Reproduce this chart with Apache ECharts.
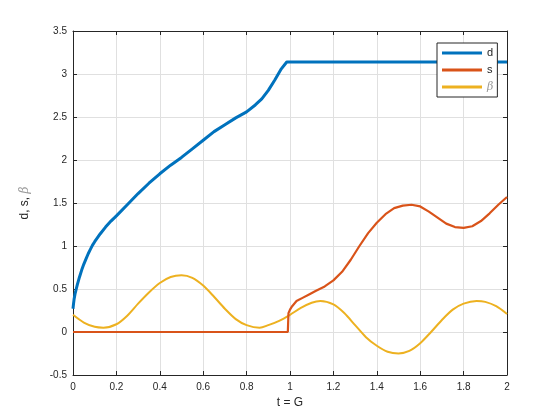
<!DOCTYPE html>
<html>
<head>
<meta charset="utf-8">
<script src="https://cdn.jsdelivr.net/npm/echarts@6/dist/echarts.min.js"></script>
<style>html,body{margin:0;padding:0;background:#fff}#c{width:560px;height:420px}</style>
</head>
<body>
<div id="c"></div>
<script>
// ---- data ----
const seriesNames = ['d', 's', 'β'];
const tD = [0, 0.0025, 0.005, 0.01, 0.015, 0.02, 0.03, 0.04, 0.05, 0.06, 0.07, 0.08, 0.09, 0.1, 0.125, 0.15, 0.175, 0.2, 0.25, 0.3, 0.35, 0.4, 0.45, 0.5, 0.55, 0.6, 0.65, 0.7, 0.75, 0.8, 0.84, 0.87, 0.9, 0.93, 0.96, 0.985, 1.0, 2.0];
const dVals = [0.27, 0.33, 0.38, 0.45, 0.50, 0.55, 0.64, 0.72, 0.79, 0.85, 0.91, 0.96, 1.01, 1.05, 1.14, 1.22, 1.29, 1.35, 1.48, 1.61, 1.73, 1.84, 1.94, 2.03, 2.13, 2.23, 2.33, 2.41, 2.49, 2.56, 2.64, 2.71, 2.81, 2.93, 3.06, 3.14, 3.14, 3.14];
const tS = [0, 0.99, 0.993, 1.0, 1.01, 1.03, 1.06, 1.09, 1.12, 1.16, 1.2, 1.24, 1.28, 1.32, 1.36, 1.4, 1.44, 1.48, 1.52, 1.56, 1.6, 1.64, 1.68, 1.72, 1.76, 1.8, 1.84, 1.88, 1.92, 1.96, 2.0];
const sVals = [0, 0, 0.22, 0.26, 0.30, 0.36, 0.40, 0.44, 0.48, 0.53, 0.60, 0.70, 0.84, 1.00, 1.15, 1.27, 1.37, 1.44, 1.47, 1.48, 1.46, 1.40, 1.33, 1.26, 1.22, 1.21, 1.23, 1.29, 1.38, 1.48, 1.57];
const tB = [0, 0.05, 0.1, 0.14, 0.2, 0.25, 0.3, 0.35, 0.4, 0.45, 0.5, 0.55, 0.6, 0.65, 0.7, 0.75, 0.8, 0.86, 0.9, 0.95, 1.0, 1.05, 1.1, 1.14, 1.2, 1.25, 1.3, 1.35, 1.4, 1.45, 1.5, 1.55, 1.6, 1.65, 1.7, 1.75, 1.8, 1.86, 1.9, 1.95, 2.0];
const bVals = [0.20, 0.11, 0.06, 0.05, 0.09, 0.19, 0.33, 0.46, 0.57, 0.64, 0.66, 0.63, 0.54, 0.41, 0.27, 0.15, 0.08, 0.05, 0.08, 0.13, 0.20, 0.28, 0.34, 0.36, 0.32, 0.22, 0.08, -0.06, -0.16, -0.23, -0.25, -0.22, -0.13, 0.00, 0.14, 0.26, 0.33, 0.36, 0.35, 0.30, 0.21];
const xTickMin = 0, xTickMax = 2, xTickStep = 0.2;
const yTickMin = -0.5, yTickMax = 3.5, yTickStep = 0.5;
const xLabel = 't = G';
const yLabelParts = ['d, s, ', 'β'];
// ---- chart ----
const font = 'Arial, "Liberation Sans", Helvetica, sans-serif';
const ink = '#262626';
const pair = (ts, vs) => ts.map((t, i) => [t, vs[i]]);
const chart = echarts.init(document.getElementById('c'), null, {renderer: 'canvas'});
const baseAxis = {
  axisLine: {show: true, onZero: false, lineStyle: {color: ink, width: 1}},
  axisTick: {show: true, inside: true, length: 4, lineStyle: {color: ink}},
};
chart.setOption({
  animation: false,
  backgroundColor: '#fff',
  grid: {left: 73, right: 53, top: 31, bottom: 45, containLabel: false},
  legend: {
    orient: 'vertical', left: 437, top: 43,
    padding: [3, 4, 3, 5], itemGap: 3, itemWidth: 40, itemHeight: 3,
    icon: 'rect',
    backgroundColor: '#fff', borderColor: ink, borderWidth: 1, borderRadius: 0,
    data: seriesNames,
    formatter: n => n === 'β' ? '{b|β}' : n,
    textStyle: {fontFamily: font, fontSize: 11, color: ink, lineHeight: 14,
      rich: {b: {fontStyle: 'italic', fontFamily: '"DejaVu Serif", serif', color: '#999', fontSize: 11, lineHeight: 14}}}
  },
  xAxis: [
    Object.assign({}, baseAxis, {
      type: 'value', position: 'bottom', min: xTickMin, max: xTickMax, interval: xTickStep,
      name: xLabel, nameLocation: 'middle', nameGap: 22,
      nameTextStyle: {fontFamily: font, fontSize: 12, color: ink},
      axisLabel: {fontFamily: font, fontSize: 10, color: ink, margin: 7},
      splitLine: {show: true, lineStyle: {color: '#e0e0e0', width: 1}}
    }),
    Object.assign({}, baseAxis, {
      type: 'value', position: 'top', min: xTickMin, max: xTickMax, interval: xTickStep,
      axisLabel: {show: false}, splitLine: {show: false}
    })
  ],
  yAxis: [
    Object.assign({}, baseAxis, {
      type: 'value', position: 'left', min: yTickMin, max: yTickMax, interval: yTickStep,
      name: '{n|' + yLabelParts[0] + '}{b|' + yLabelParts[1] + '}', nameLocation: 'middle', nameGap: 42,
      nameTextStyle: {fontFamily: font, fontSize: 12, color: ink,
        rich: {n: {fontFamily: font, fontSize: 12, color: ink},
               b: {fontFamily: '"DejaVu Serif", serif', fontStyle: 'italic', fontSize: 12, color: '#999'}}},
      axisLabel: {fontFamily: font, fontSize: 10, color: ink, margin: 6},
      splitLine: {show: true, lineStyle: {color: '#e0e0e0', width: 1}}
    }),
    Object.assign({}, baseAxis, {
      type: 'value', position: 'right', min: yTickMin, max: yTickMax, interval: yTickStep,
      axisLabel: {show: false}, splitLine: {show: false}
    })
  ],
  series: [
    {name: seriesNames[0], type: 'line', xAxisIndex: 0, yAxisIndex: 0, data: pair(tD, dVals),
     showSymbol: false, symbol: 'none', lineStyle: {color: '#0072BD', width: 3}, itemStyle: {color: '#0072BD'}, z: 3},
    {name: seriesNames[1], type: 'line', xAxisIndex: 0, yAxisIndex: 0, data: pair(tS, sVals),
     showSymbol: false, symbol: 'none', lineStyle: {color: '#D95319', width: 2.2}, itemStyle: {color: '#D95319'}, z: 2},
    {name: seriesNames[2], type: 'line', xAxisIndex: 0, yAxisIndex: 0, data: pair(tB, bVals), smooth: 0.3,
     showSymbol: false, symbol: 'none', lineStyle: {color: '#EDB120', width: 2}, itemStyle: {color: '#EDB120'}, z: 1}
  ]
});
</script>
</body>
</html>
